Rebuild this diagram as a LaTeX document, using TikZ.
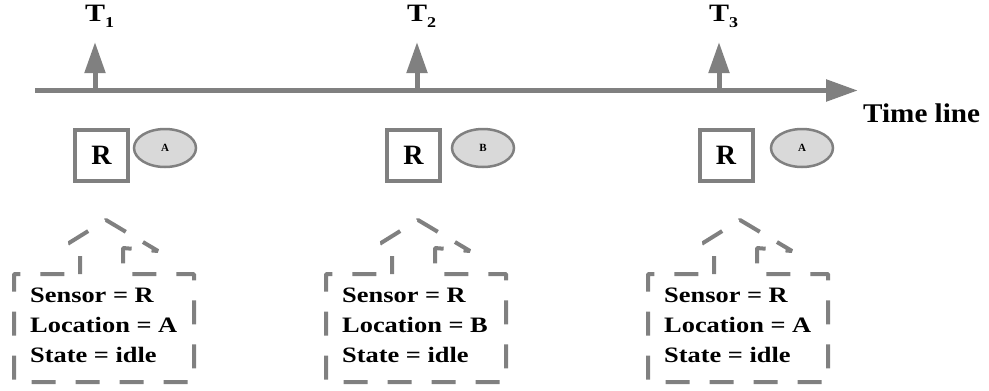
\documentclass[tikz,border=0pt]{standalone}
\usepackage{fontspec}
\setmainfont{Liberation Serif}
\newfontfamily\labfont[FakeStretch=1.2]{Liberation Serif}
\newfontfamily\ttlfont[FakeStretch=1.08]{Liberation Serif}
\usetikzlibrary{arrows.meta,shapes.geometric}
\definecolor{lgray}{HTML}{808080}
\definecolor{efill}{HTML}{D9D9D9}
\begin{document}
\begin{tikzpicture}[x=1pt,y=-1pt,
  axisline/.style={draw=lgray, line width=5.5pt, -{Triangle[length=32pt,width=21pt]}},
  tickline/.style={draw=lgray, line width=5pt, -{Triangle[length=31pt,width=20pt]}},
  rbox/.style={draw=lgray, line width=4pt, minimum width=53pt, minimum height=51pt, inner sep=0pt, font=\bfseries\fontsize{28}{28}\selectfont},
  locell/.style={ellipse, draw=lgray, fill=efill, line width=2.5pt, minimum width=62pt, minimum height=38pt, inner sep=0pt, font=\bfseries\fontsize{11}{11}\selectfont},
  callout/.style={draw=lgray, line width=4pt, line join=bevel, dash pattern=on 24pt off 20pt, dash phase=6pt},
  info/.style={anchor=base west, inner sep=0pt, font=\labfont\bfseries\fontsize{22}{22}\selectfont},
  tlabel/.style={anchor=base west, inner sep=0pt, font=\labfont\bfseries\fontsize{25}{25}\selectfont}
]
\useasboundingbox (0,0) rectangle (989,391);
% time line
\coordinate (ax0) at (35,90.5);
\coordinate (ax1) at (858,90.5);
\draw[axisline] (ax0) -- (ax1);
\node[anchor=base west, inner sep=0pt, font=\ttlfont\bfseries\fontsize{27}{27}\selectfont] (tl) at (863,122) {Time line};
\foreach \i/\ax/\rx/\ex/\cx/\l in {1/95/101.5/165/14/A, 2/417/413.5/483/326/B, 3/719/726/802/648/A}{
  \coordinate (tb\i) at (\ax,90.5);
  \coordinate (tt\i) at (\ax,42);
  \draw[tickline] (tb\i) -- (tt\i);
  \node[tlabel] (tn\i) at (\ax-10,21) {T\raisebox{-6pt}{\fontsize{15}{15}\selectfont\i}};
  \node[rbox] (r\i) at (\rx,155.5) {R};
  \node[locell] (e\i) at (\ex,148) {\l};
  \begin{scope}[xshift=\cx pt]
    \draw[callout] (66,274) -- (66,246) -- (55,243) -- (92,220) -- (144,251) -- (109,248) -- (109,274)
       -- (180,274) -- (180,382) -- (0,382) -- (0,274) -- cycle;
    \node[info] (s\i) at (16,302) {Sensor = R};
    \node[info] (l\i) at (16,332) {Location = \l};
    \node[info] (st\i) at (16,362) {State = idle};
  \end{scope}
}
\end{tikzpicture}
\end{document}
